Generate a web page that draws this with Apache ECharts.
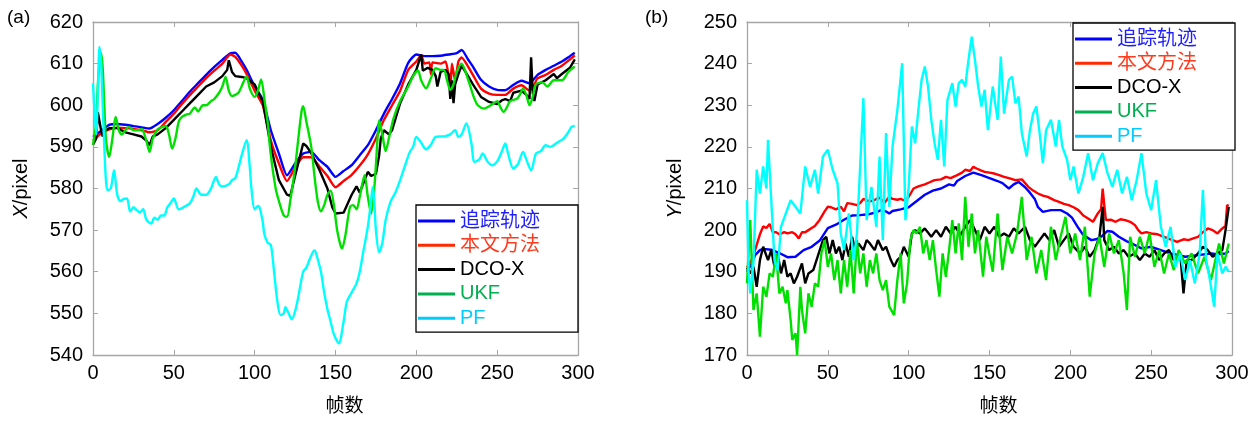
<!DOCTYPE html>
<html lang="zh">
<head>
<meta charset="utf-8">
<script src="https://cdn.jsdelivr.net/npm/echarts@6/dist/echarts.min.js"></script>
<style>
  html, body { margin: 0; background: #fff; }
  #chart { width: 1258px; height: 421px; }
</style>
</head>
<body>
<div id="chart"></div>
<script>
// 图例名称
var names = ['追踪轨迹', '本文方法', 'DCO-X', 'UKF', 'PF'];

// (a) X 方向, [帧, 像素]
var aTrack = [[0,592.4],[5,593.8],[10,595.3],[15,595.5],[20,595.3],[25,595],[30,594.7],[35,594.4],[40,595.5],[45,597],[50,598.8],[55,601],[60,603.3],[65,605.3],[70,607.3],[75,609.2],[80,610.9],[85,612.5],[88,612.6],[92,610.5],[95,608.5],[100,604.5],[105,601.3],[110,594],[115,588.4],[120,583.2],[125,586],[130,588.4],[135,588.8],[140,586.8],[145,585.2],[150,582.8],[155,584.2],[160,585.6],[165,588],[170,590.4],[175,594],[180,598],[185,601.5],[190,605.3],[195,610.2],[200,612.2],[205,611.8],[210,611.8],[215,611.9],[220,612.2],[225,612.5],[228,613.3],[232,611],[235,609.3],[240,606.1],[245,604.5],[250,603.7],[255,603.6],[260,604.9],[265,605.9],[270,605.3],[275,607.3],[280,608.5],[285,609.5],[290,610.5],[295,611.8],[298,612.6]];
var aOurs = [[0,591.5],[5,593.2],[10,594.2],[15,594.6],[20,594.5],[25,594.3],[30,594],[35,593.5],[40,594],[45,596],[50,598],[55,600.3],[60,602.5],[65,604.5],[70,606.5],[75,608.3],[80,610],[85,612.2],[88,611.6],[92,609.5],[95,607.5],[100,603.5],[105,600],[110,591.5],[115,586],[120,581.8],[125,585],[130,587.5],[135,587.5],[140,585.3],[145,583],[150,580.3],[155,581.8],[160,583.3],[165,585.5],[170,588.2],[175,592],[180,596.5],[185,600],[190,603.5],[195,608.5],[200,610.5],[203,612],[205,610],[208,610.3],[209,607.5],[210,610.3],[215,610],[218,610.5],[220,607],[221,603.5],[222,610],[224,606],[226,610.5],[228,611.5],[232,609.3],[235,607.3],[240,604],[245,602.8],[250,602.5],[255,602.5],[260,604],[265,604.8],[270,603.5],[273,605],[275,606.5],[280,607.3],[285,608.5],[290,609.5],[295,611],[298,612]];
var aDco = [[0,590.5],[2,592],[3,598.3],[5,594],[6,592.5],[8,594],[10,594.5],[15,594.5],[20,593.5],[25,593],[30,592.5],[33,591.5],[35,590.4],[37,592.5],[40,593],[45,594.5],[50,596.5],[55,598.5],[60,600.5],[65,602.5],[70,604.5],[75,605.5],[80,607],[83,608.5],[84,610.8],[86,608],[88,607],[92,606.8],[95,606.5],[100,605],[103,602.5],[105,601],[110,590],[115,582],[120,578.5],[122,578.2],[125,583],[130,590.8],[132,590.2],[135,588.5],[140,584.5],[145,580],[148,575.5],[150,574],[155,574.2],[160,578.5],[163,580.5],[165,579],[170,584],[172,583],[175,583.5],[177,588],[178,592],[180,594],[183,593],[185,594],[190,600.5],[195,605],[200,608.5],[203,612.2],[204,608.3],[207,609],[210,608.5],[212,607],[213,604.5],[215,608],[218,608.5],[220,607.5],[221,601.5],[222,606],[223,600.5],[224,605],[226,607.5],[228,609.5],[232,607],[235,605],[240,602],[245,600.8],[250,600.3],[253,601.2],[255,601.5],[258,601],[260,603],[265,603.5],[268,602.5],[270,601.5],[271,611.5],[272,603],[273,601],[275,605],[280,606],[285,607.5],[287,606.5],[290,607.5],[295,609],[298,611]];
var aUkf = [[0,590.5],[2,596],[3,605],[4,610],[5,612.5],[6,609],[7,600],[8,592],[10,587.6],[12,592],[14,597.2],[16,594],[18,593],[20,594],[22,594.8],[25,594],[28,594],[30,594.3],[33,591.5],[35,588.8],[37,592],[40,594.2],[43,594.8],[45,595],[47,593],[49,589.6],[51,592],[53,596],[55,597.2],[58,597.8],[60,598],[63,599.5],[65,598.5],[68,600],[70,600],[73,601],[75,601.5],[78,603],[80,604.5],[82,606.8],[84,603.5],[86,602.2],[88,602.5],[90,603],[93,605.5],[95,607],[97,604],[100,602],[102,603.5],[104,606.2],[106,601.5],[108,596],[110,588],[113,580],[115,577],[118,573.5],[120,573.2],[122,577],[125,585],[127,592],[129,598.5],[130,599.8],[132,596],[135,590],[137,583],[139,577],[141,574.5],[143,576],[145,578.5],[147,579.5],[149,576],[151,570],[153,566.5],[154,565.6],[156,568.5],[159,575.6],[161,576],[163,575],[165,578],[168,583.2],[170,578],[172,574],[174,580],[176,592],[177,596.4],[179,593],[181,589],[183,592],[186,597],[190,601],[195,604.5],[198,607],[201,608.3],[203,606],[206,604.1],[209,606.5],[212,608.9],[215,608.5],[217,608.5],[219,606],[221,603.7],[223,605],[225,608],[228,610],[230,608.5],[233,605],[236,601.5],[238,600],[242,599.2],[246,600],[250,601],[252,599.5],[254,598.4],[256,599.5],[258,601],[262,601.5],[264,602.5],[266,604],[268,602.5],[270,600],[272,602],[274,605],[278,605.5],[281,604.5],[285,606],[290,606],[294,608],[298,609.3]];
var aPf = [[0,605.3],[1,598],[2,593],[3,603],[4,614],[5,610],[6,600],[7,590],[8,582],[9,579.6],[11,580],[13,584.4],[15,578.5],[17,577],[19,577.5],[21,577.6],[23,574.5],[25,575.5],[27,574.8],[29,574.3],[31,575],[33,572.5],[36,571.6],[38,573],[40,572.5],[42,573.5],[44,573.5],[46,575.5],[48,576.5],[50,577.6],[53,575],[56,575.5],[60,576.5],[62,578],[64,580],[67,578.5],[70,578.5],[73,580],[76,582.8],[78,581],[80,580.5],[84,581],[86,582],[88,582.5],[90,585],[92,588],[95,591.6],[97,585],[98,580],[100,575],[102,575.8],[103,575.5],[105,572],[106,569],[108,567],[110,566.5],[112,560],[114,553],[116,549.6],[118,550],[119,551.5],[121,550],[123,548.6],[125,550.5],[127,554],[130,560],[132,561],[134,563],[137,565.2],[139,563],[141,560],[143,555],[145,551],[147,548],[149,545],[152,542.8],[155,548],[157,552.8],[160,555],[163,557.2],[165,560],[167,564.4],[170,570.8],[172,577],[173,580.3],[174,577],[175,570],[177,564.7],[179,567],[181,572.4],[184,576.8],[187,579],[190,582],[193,585.5],[196,588.8],[198,590],[200,592.4],[203,591],[206,589.4],[209,590.5],[212,592.4],[215,592.5],[218,592.6],[221,593],[224,594],[226,592.4],[228,593],[231,595.6],[234,591],[236,586.4],[239,587],[241,588.4],[244,586.5],[247,585.6],[250,586.5],[253,589],[255,590.8],[257,588],[260,584.8],[263,586],[266,588.8],[268,587],[271,584.4],[274,588.4],[277,589],[280,590.4],[283,590],[287,591],[291,592],[294,593.5],[296,594.8],[298,595]];

// (b) Y 方向, [帧, 像素]
var bTrack = [[0,190],[3,192],[5,194],[8,195.2],[10,195.5],[15,195.3],[20,194.5],[25,193.5],[30,193.6],[35,195.2],[40,196],[45,197.5],[50,200.5],[55,201.3],[60,202.5],[65,203.5],[70,203.6],[75,203.8],[80,204.3],[83,204.8],[86,204.5],[88,204],[90,204.6],[95,205],[100,205.5],[105,207],[110,208.5],[115,209.5],[120,210],[125,211],[128,210.7],[130,211.8],[135,213],[140,213.8],[145,213.2],[150,212.5],[155,211.8],[158,211.3],[162,210],[165,211],[168,211.6],[172,210.3],[175,209],[178,207.5],[180,205.5],[183,204.4],[188,204.8],[194,204.8],[198,204],[201,203],[205,200.5],[208,198.8],[213,197.6],[216,197.8],[219,198.4],[223,199.8],[226,199.6],[230,198.4],[235,197.3],[238,196.8],[244,195.6],[250,196],[256,195.2],[262,194.4],[267,194],[271,193.6],[279,194],[287,194.4],[291,194.2],[296,194.4],[298,195]];
var bOurs = [[0,191],[3,193],[5,195.2],[8,199],[10,200.9],[12,200.5],[14,201.5],[16,199.5],[18,199.5],[20,199],[23,199.5],[25,199.2],[28,199.5],[30,199],[32,198],[34,199.5],[36,199.5],[38,200],[40,200.5],[42,201],[45,202.5],[48,204.5],[50,205.6],[52,205.5],[55,205],[58,205.6],[60,204.5],[62,206.5],[65,206.3],[68,206],[70,206.5],[72,207.5],[75,207],[78,207],[80,207.5],[82,207.8],[85,206.5],[88,208],[90,207.5],[93,207.3],[95,207.5],[98,207],[100,208],[103,210],[106,210.5],[110,211],[113,211.5],[116,212],[120,212.2],[123,212.8],[126,212.5],[130,213.2],[133,213.8],[135,214.5],[138,214.2],[140,215.2],[142,214.8],[145,214.3],[147,214],[150,213.8],[153,213.6],[156,213.2],[159,212.8],[162,212.5],[166,212],[170,212.2],[174,210.4],[177,209.5],[180,208.8],[183,208.3],[186,208],[190,207.2],[193,206.8],[196,206.3],[199,206],[202,205.5],[205,204.8],[208,203.5],[211,202.8],[214,202],[217,204],[219,205],[220,210],[221,206],[222,202.4],[225,202.5],[228,202],[231,202.6],[234,202.4],[237,202],[240,201.2],[242,200],[244,199.2],[247,199.5],[250,199.2],[254,199],[258,198.4],[262,197.8],[266,197.2],[270,197.8],[273,197.6],[276,198],[279,198.4],[282,199.5],[285,200.4],[288,200],[291,199.2],[294,200.4],[296,201],[297,206],[298,205.8]];
var bDco = [[0,191],[2,189.6],[4,191.2],[6,186.4],[8,192.8],[10,196],[13,192.8],[15,195.2],[17,191.2],[19,194.4],[21,189.6],[23,192.8],[25,188.8],[27,189.6],[29,187.2],[31,188.8],[34,192],[36,187.2],[38,189.6],[41,190.4],[43,192.8],[47,197.6],[49,198.4],[51,194.4],[53,197.6],[55,194.4],[57,196],[59,192.8],[61,196.8],[63,193.6],[65,198.4],[67,195.2],[69,196.8],[72,195.2],[74,197.6],[76,196.8],[79,195.2],[81,197.6],[84,195.2],[86,196],[89,192.8],[91,191.2],[93,192.8],[95,193.6],[97,196],[100,193.6],[102,199.2],[104,200],[107,199.2],[110,200.4],[114,198.4],[117,200],[120,198.4],[123,200.8],[126,199.2],[129,200.8],[132,198.8],[135,200.8],[138,202.4],[141,200],[144,197.6],[147,200.8],[150,199.2],[153,200.8],[156,198.4],[159,199.2],[162,198.4],[165,200.4],[168,199.2],[172,200.8],[175,197.6],[178,196],[181,197.6],[184,199.2],[187,197.6],[190,200],[193,196],[196,197.6],[199,199.2],[202,196],[206,194.4],[209,196],[212,193.6],[215,195.2],[218,198.4],[220,205.6],[221,197.6],[224,195.2],[227,196],[230,194.4],[233,195.2],[236,193.6],[240,194.4],[243,192.8],[246,194.4],[249,193.6],[252,195.2],[255,192.8],[258,194.4],[261,195.2],[264,192.8],[268,194.4],[270,184.8],[272,192.8],[275,192.8],[279,194.4],[282,196],[285,195.2],[288,193.6],[291,194.4],[294,195.2],[296,200],[298,205.6]];
var bUkf = [[0,187.2],[2,202.4],[4,180.8],[6,184.8],[8,174.4],[10,186.4],[12,184],[14,189.6],[16,188.8],[18,194.4],[20,184.8],[22,186.4],[24,182.4],[25,185.6],[27,178.4],[28,173.6],[30,175.2],[31,170],[33,186.4],[34,180.8],[36,175.2],[38,184.8],[40,181.6],[42,187.2],[44,186.4],[46,194.4],[48,197.6],[50,191.2],[52,194.4],[54,188],[56,192.8],[58,184.8],[60,192.8],[62,186.4],[64,195.2],[66,184.8],[68,197.6],[70,189.6],[72,194.4],[74,186.4],[76,192.8],[78,189.6],[80,194.4],[82,188],[84,185.6],[86,188],[88,181.6],[91,179.6],[93,188],[95,194.4],[97,182.4],[99,187.2],[101,197.6],[103,200],[105,199.2],[107,200.8],[109,194.4],[111,197.6],[113,192.8],[115,197.6],[117,190.4],[119,184],[121,194.4],[123,188.8],[125,195.2],[127,202.4],[129,194.4],[131,201.6],[133,192.8],[135,208],[137,196],[139,204],[141,194.4],[143,200],[146,188.8],[148,198.4],[150,194],[152,190],[155,204],[158,190.4],[161,198.4],[164,194.4],[167,199.2],[170,208],[173,192.8],[176,198.4],[179,189.6],[182,195.2],[185,188],[188,200.8],[191,192.8],[194,198.4],[197,203.2],[200,194.4],[203,199.2],[206,192.8],[209,200.8],[212,184],[215,194.4],[218,198.4],[221,191.2],[224,199.2],[227,194.4],[230,197.6],[233,189.6],[235,180.8],[237,198.4],[240,193.6],[243,198.4],[246,194.4],[249,199.2],[252,191.2],[255,195.2],[258,189.6],[261,194.4],[264,190.4],[267,195.2],[271,192],[275,194.4],[279,189.6],[283,193.6],[287,188],[292,196.8],[295,192],[298,196.8]];
var bPf = [[0,207.2],[1,190],[2,184.8],[4,192],[6,214.5],[8,208.8],[10,215.3],[12,210],[13,221.7],[15,207.2],[17,192.8],[19,190.4],[21,200.8],[24,204],[27,207.2],[30,205.6],[33,204],[36,215.3],[39,210.4],[42,214.5],[44,208.8],[47,217.7],[50,219.3],[53,214.5],[56,211.2],[58,199.2],[60,195.2],[63,204],[66,192.8],[68,199.2],[72,231.7],[74,202.4],[77,210.4],[80,200.8],[82,217.7],[84,197.6],[86,223.3],[88,205.6],[90,220],[93,228.9],[96,240.1],[98,202.4],[100,210.4],[102,224.9],[104,220.9],[106,228.9],[108,236.1],[110,239.3],[112,234.5],[114,226.5],[116,220.9],[118,216.9],[120,226.5],[122,215.3],[124,231.3],[127,235.3],[129,229.7],[131,235.3],[133,236.1],[135,234.5],[137,240.9],[139,246.5],[141,240.9],[143,234.5],[145,229.7],[147,233.7],[149,224],[152,234.5],[155,226.5],[157,241.7],[159,228],[162,236.1],[164,236.9],[166,230.5],[168,232.1],[170,223.3],[173,217.7],[175,224],[177,228],[179,229.7],[181,223.3],[183,216.1],[185,224],[188,226.5],[191,220.1],[193,226.5],[195,220.1],[198,216.9],[200,212],[202,215.3],[205,208.8],[208,212.8],[211,218.5],[214,212],[217,216.1],[220,218.5],[223,213.7],[226,210.4],[229,214.5],[232,208.8],[235,212.8],[238,207.2],[241,212],[244,218.5],[247,208.8],[250,204.8],[253,212],[256,200.8],[259,196],[262,200.8],[265,191.2],[268,194.4],[271,188],[274,192.8],[277,187.2],[280,194.4],[282,209.6],[284,192.8],[286,188.8],[289,181.6],[291,194.4],[294,189.6],[296,191.2],[298,190]];

var lineColors = ['#0000ff', '#ff0000', '#000000', '#00e000', '#00ffff'];
var legendLine = ['#0000ff', '#ff2a00', '#000000', '#00b050', '#00ccff'];
var legendText = ['#1f1fff', '#ff3b1f', '#000000', '#00b050', '#00ccff'];

var FONT = "'Liberation Sans', 'Noto Sans CJK SC', sans-serif";
var axisGray = '#a6a6a6';

function xAx(grid, top) {
    return {
        type: 'value', gridIndex: grid, position: top ? 'top' : 'bottom',
        min: 0, max: 300, interval: 50,
        name: top ? '' : '帧数', nameLocation: 'middle', nameGap: 42,
        nameTextStyle: { fontFamily: FONT, fontSize: 19, color: '#000', padding: [0, 0, 0, 18] },
        axisLine: { show: true, onZero: false, lineStyle: { color: axisGray, width: 1.3 } },
        axisTick: { show: true, inside: true, length: 5, lineStyle: { color: axisGray } },
        axisLabel: { show: !top, fontFamily: FONT, fontSize: 20, color: '#000', margin: 8 },
        splitLine: { show: false }
    };
}
function yAx(grid, right, min, max, title) {
    return {
        type: 'value', gridIndex: grid, position: right ? 'right' : 'left',
        min: min, max: max, interval: 10,
        name: right ? '' : title, nameLocation: 'middle', nameGap: 62, nameRotate: 90,
        nameTextStyle: { fontFamily: FONT, fontSize: 20, color: '#000',
            rich: { i: { fontFamily: FONT, fontSize: 20, fontStyle: 'italic', color: '#000' } } },
        axisLine: { show: true, onZero: false, lineStyle: { color: axisGray, width: 1.3 } },
        axisTick: { show: true, inside: true, length: 5, lineStyle: { color: axisGray } },
        axisLabel: { show: !right, fontFamily: FONT, fontSize: 20, color: '#000', margin: 10 },
        splitLine: { show: false }
    };
}
function legendFor(left, top) {
    return {
        orient: 'vertical', left: left, top: top,
        icon: 'rect', itemWidth: 37, itemHeight: 3, itemGap: 4.3,
        padding: [6, 38, 4, 2],
        backgroundColor: '#fff', borderColor: '#000', borderWidth: 1.3, borderRadius: 0,
        textStyle: { fontFamily: FONT, fontSize: 20, lineHeight: 20, padding: [0, 0, 0, 0] },
        selectedMode: false,
        data: names.map(function (n, i) {
            return { name: n, itemStyle: { color: legendLine[i] }, textStyle: { color: legendText[i] } };
        })
    };
}
function mk(name, data, idx, axis, smooth) {
    return {
        name: name, type: 'line', data: data, xAxisIndex: axis, yAxisIndex: axis,
        symbol: 'none', smooth: smooth, animation: false,
        lineStyle: { color: lineColors[idx], width: 2.4 },
        itemStyle: { color: lineColors[idx] }
    };
}

var aData = [aTrack, aOurs, aDco, aUkf, aPf];
var bData = [bTrack, bOurs, bDco, bUkf, bPf];
var aSmooth = [0.2, 0.2, false, 0.3, 0.3];

var series = [];
names.forEach(function (n, i) { series.push(mk(n, aData[i], i, 0, aSmooth[i])); });
names.forEach(function (n, i) { series.push(mk(n, bData[i], i, 2, false)); });

var chart = echarts.init(document.getElementById('chart'), null, { renderer: 'canvas' });
chart.setOption({
    backgroundColor: '#fff',
    animation: false,
    grid: [
        { left: 93, top: 22, width: 485, height: 333 },
        { left: 747, top: 22, width: 485, height: 333 }
    ],
    xAxis: [xAx(0, false), xAx(0, true), xAx(1, false), xAx(1, true)],
    yAxis: [
        yAx(0, false, 540, 620, '{i|X}/pixel'), yAx(0, true, 540, 620),
        yAx(1, false, 170, 250, '{i|Y}/pixel'), yAx(1, true, 170, 250)
    ],
    legend: [legendFor(416, 205), legendFor(1073, 23)],
    graphic: [
        { type: 'text', left: 7, top: 8, style: { text: '(a)', font: '19px ' + FONT, fill: '#000' } },
        { type: 'text', left: 645, top: 8, style: { text: '(b)', font: '19px ' + FONT, fill: '#000' } }
    ],
    series: series
});
</script>
</body>
</html>
